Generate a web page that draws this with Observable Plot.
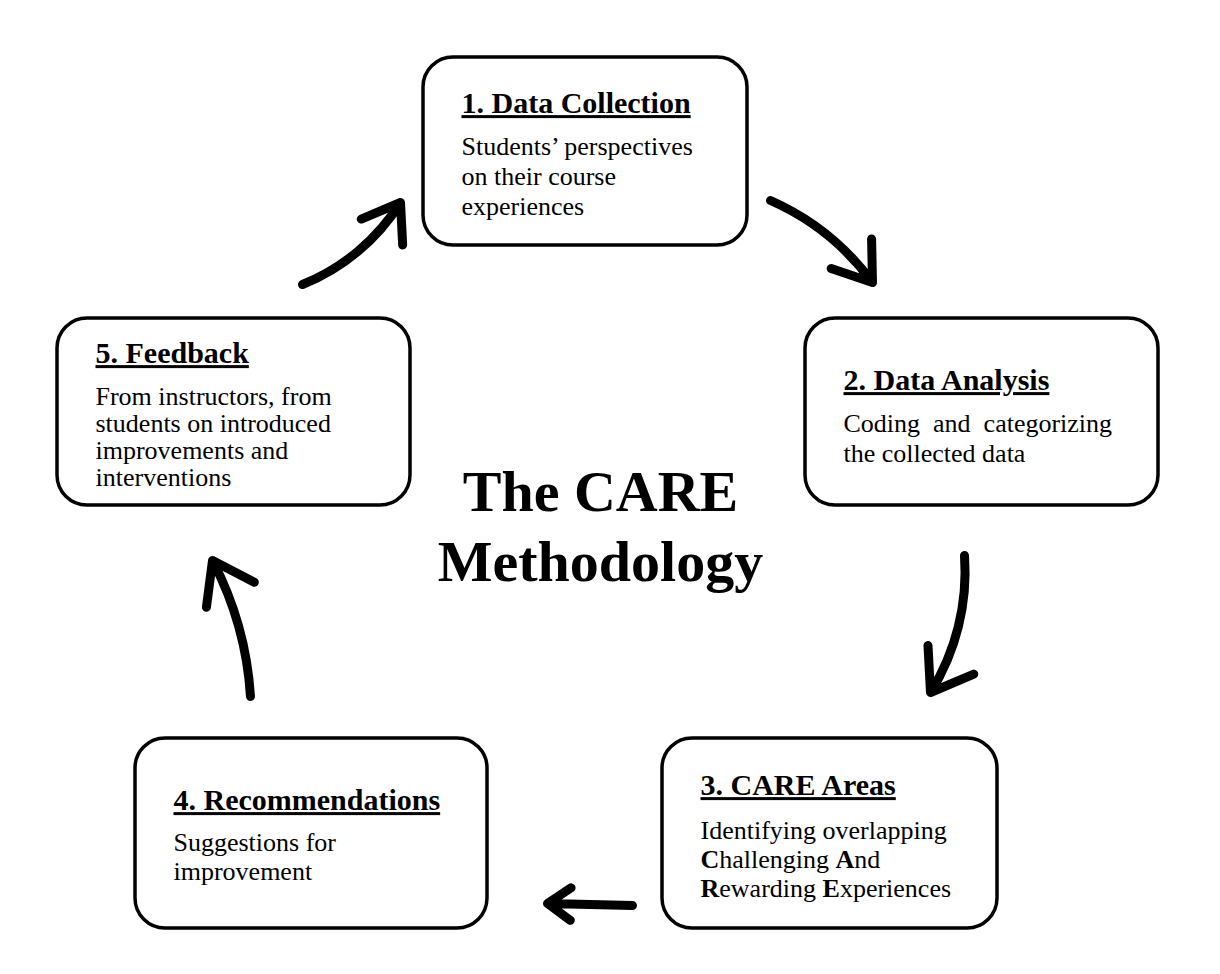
<!DOCTYPE html>
<html><head><meta charset="utf-8">
<script src="https://cdn.jsdelivr.net/npm/d3@7"></script>
<script src="https://cdn.jsdelivr.net/npm/@observablehq/plot@0.6"></script>
<style>body{margin:0;background:#fff}</style>
</head><body><div id="chart"></div>
<script>
// boxes of the cycle
const boxes = [
  {x1: 423, x2: 747, y1: 57, y2: 245},
  {x1: 805, x2: 1158, y1: 318, y2: 505},
  {x1: 662, x2: 997, y1: 738, y2: 928},
  {x1: 135, x2: 487, y1: 738, y2: 928},
  {x1: 57, x2: 410, y1: 318, y2: 505}
]
const titles = [
  {x: 461, y: 103, t: "1. Data Collection"},
  {x: 843, y: 380, t: "2. Data Analysis"},
  {x: 700, y: 785, t: "3. CARE Areas"},
  {x: 173, y: 800, t: "4. Recommendations"},
  {x: 95, y: 353, t: "5. Feedback"}
]
const lines = [
  {x: 461, y: 146, t: "Students’ perspectives"},
  {x: 461, y: 176, t: "on their course"},
  {x: 461, y: 206, t: "experiences"},
  {x: 843, y: 423, t: "Coding  and  categorizing"},
  {x: 843, y: 453, t: "the collected data"},
  {x: 700, y: 830, t: "Identifying overlapping"},
  {x: 700, y: 859, t: "**C**hallenging **A**nd"},
  {x: 700, y: 888, t: "**R**ewarding **E**xperiences"},
  {x: 173, y: 842, t: "Suggestions for"},
  {x: 173, y: 871, t: "improvement"},
  {x: 95, y: 396, t: "From instructors, from"},
  {x: 95, y: 423, t: "students on introduced"},
  {x: 95, y: 450, t: "improvements and"},
  {x: 95, y: 477, t: "interventions"}
]
const center = [
  {x: 600, y: 492, t: "The CARE"},
  {x: 600, y: 562, t: "Methodology"}
]
const arrows = [
  {x1: 302, y1: 284, x2: 400, y2: 202, bend: -18},
  {x1: 770, y1: 200, x2: 872, y2: 282, bend: 15},
  {x1: 964, y1: 555, x2: 930, y2: 692, bend: 18},
  {x1: 632, y1: 905, x2: 547, y2: 903, bend: 0},
  {x1: 250, y1: 696, x2: 212, y2: 560, bend: -12}
]

const font = "'Liberation Serif', 'Times New Roman', serif"
const chart = Plot.plot({
  width: 1220, height: 974,
  margin: 0,
  x: {domain: [0, 1220], range: [0, 1220], axis: null},
  y: {domain: [0, 974], range: [0, 974], axis: null},
  style: {fontFamily: font, background: "#fff"},
  marks: [
    Plot.rect(boxes, {x1: "x1", x2: "x2", y1: "y1", y2: "y2", fill: "#fff", stroke: "#000", strokeWidth: 3.5, rx: 30}),
    ...arrows.map(a => Plot.arrow([a], {x1: "x1", y1: "y1", x2: "x2", y2: "y2", bend: a.bend, stroke: "#000", strokeWidth: 9, headLength: 26, headAngle: 70})),
    Plot.text(titles, {x: "x", y: "y", text: "t", textAnchor: "start", fontSize: 30, fontWeight: "bold", fill: "#000"}),
    Plot.text(lines, {x: "x", y: "y", text: "t", textAnchor: "start", fontSize: 26, fill: "#000"}),
    Plot.text(center, {x: "x", y: "y", text: "t", fontSize: 58, fontWeight: "bold", fill: "#000"})
  ]
})
const titleSet = new Set(titles.map(d => d.t))
d3.select(chart).selectAll("text").each(function() {
  const s = d3.select(this), txt = s.text()
  if (titleSet.has(txt)) s.style("text-decoration", "underline")
  if (!txt.includes("**")) return
  s.text("")
  txt.split("**").forEach((p, i) => { if (p) s.append("tspan").attr("font-weight", i % 2 ? "bold" : null).text(p) })
})
d3.select('#chart').append(() => chart)
</script></body></html>
